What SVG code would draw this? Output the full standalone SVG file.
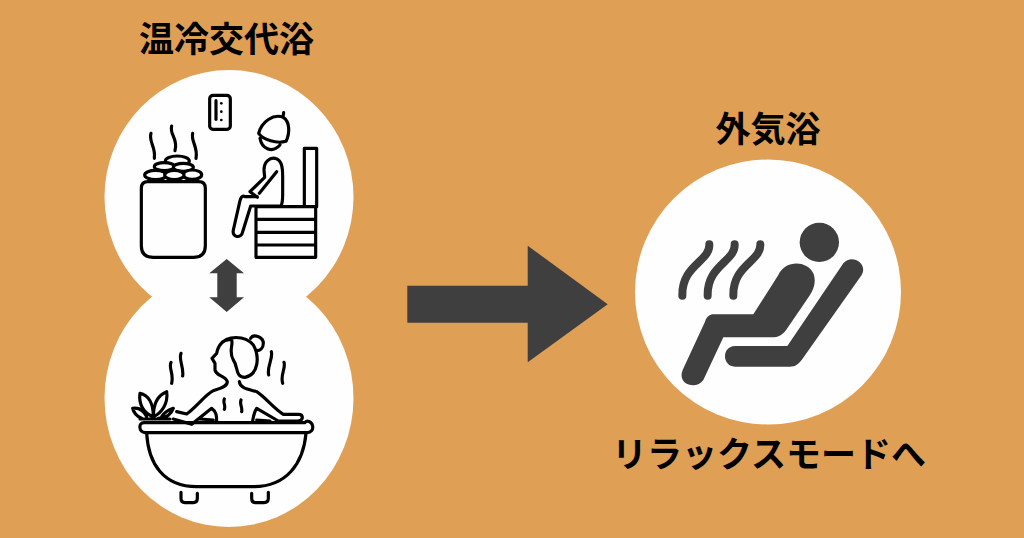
<svg xmlns="http://www.w3.org/2000/svg" width="1024" height="538" viewBox="0 0 1024 538">
<style>
.bg{fill:#df9f55}
.w{fill:#fefefe}
.d{fill:#3f3f3f}
.l{fill:none;stroke:#000;stroke-width:9.500;stroke-linecap:round;stroke-linejoin:round}
.lw{fill:#fefefe;stroke:#000;stroke-width:9.500;stroke-linejoin:round}
.t{font-family:"Noto Sans CJK JP","Noto Sans CJK SC",sans-serif;font-weight:700;font-size:35px;fill:#000;text-anchor:middle}
.st{fill:none;stroke:#3f3f3f;stroke-width:24;stroke-linecap:round}
</style>
<rect class="bg" width="1024" height="538"/>
<g id="bath-cycle-background">
<ellipse class="w" cx="229" cy="197" rx="124.500" ry="127"/>
<ellipse class="w" cx="229" cy="398" rx="124.500" ry="129"/>
</g>
<text class="t" x="226.500" y="52">温冷交代浴</text>
<g id="sauna" transform="translate(120 80) scale(.33333)">
<path class="l" d="M84 305H236Q256 305 256 325V497Q256 532 221 532H99Q64 532 64 497V325Q64 305 84 305Z"/>
<ellipse class="lw" cx="172" cy="243" rx="36" ry="15"/>
<ellipse class="lw" cx="133" cy="260" rx="30" ry="12"/>
<ellipse class="lw" cx="190" cy="262" rx="30" ry="12"/>
<ellipse class="lw" cx="107" cy="285" rx="33" ry="14"/>
<ellipse class="lw" cx="217" cy="284" rx="28" ry="14"/>
<ellipse class="lw" cx="163" cy="285" rx="29" ry="14"/>
<path class="l" d="M93 160C85 185 108 200 103 235M155 138C148 165 175 175 165 212M218 160C212 185 235 200 228 235"/>
<rect class="l" x="269" y="46" width="62" height="102" rx="10"/>
<path class="l" d="M288 62V118"/>
<circle cx="304" cy="70" r="4"/><circle cx="304" cy="95" r="4"/><circle cx="304" cy="120" r="4"/>
<path class="l" d="M416 160C425 125 460 100 490 112C510 125 510 160 498 184C470 192 430 180 416 160ZM491 98L489 110M420 175C425 205 455 222 480 195"/>
<path class="l" d="M432 270C432 245 450 232 465 235C485 240 488 260 488 290V345C488 360 487 370 483 378M432 270L434 292L390 335L412 352M470 275L418 340M412 350H375C365 345 362 355 360 362L340 450C335 475 365 475 368 455L392 378H483"/>
<path class="l" d="M408 380H587V532H408ZM408 418H587M408 457H587M408 495H587M553 380V205H590V380"/>
</g>
<g id="updown-arrow">
<polygon class="d" points="226.700,259 244,273.300 236.700,273.300 236.700,297.300 244,297.300 226.700,312 209.300,297.300 217.300,297.300 217.300,273.300 209.300,273.300"/>
</g>
<g id="bath" transform="translate(120 320) scale(.33333)">
<path class="l" d="M75 338C55 335 55 308 72 308H555C560 298 575 305 578 318C580 330 572 338 562 338ZM80 340C85 430 130 500 230 500H400C500 500 550 430 558 340M183 517V535Q183 548 195 548H220Q232 548 232 535V520M395 520V535Q395 548 405 548H432Q445 548 445 535V517"/>
<path class="l" d="M335 60C310 55 295 75 290 100L276 115L285 130V150C290 170 315 165 322 185C322 200 300 205 280 212C255 225 230 260 200 282L170 275M300 75C320 45 375 45 400 75C420 110 415 165 375 172C345 172 355 140 340 120C325 95 340 75 335 60M392 55C400 40 430 50 430 70C430 85 420 92 410 92M358 185C360 205 385 208 410 215C440 235 460 265 490 283H535C550 283 552 300 535 303H475L410 265C400 280 400 295 397 307M160 297L215 313L275 265C290 275 290 290 290 305M240 297L280 300M410 300L450 303M313 237C308 250 318 255 313 268M363 240C358 255 368 260 365 275"/>
<path class="l" d="M153 127C145 145 162 160 155 190M183 100C175 120 192 140 188 168M454 95C460 115 440 140 446 165M492 127C498 145 480 165 488 190"/>
<path class="l" d="M100 290C70 280 55 250 60 220C85 225 100 250 100 290C100 250 115 225 140 215C145 250 125 280 100 290ZM65 295C50 290 40 275 38 265C55 262 70 270 80 290M125 290C135 275 150 268 160 265C155 280 140 295 115 295M60 297H150"/>
</g>
<g id="connectors">
<polygon class="d" points="407.300,285.700 527.700,285.700 527.700,245.700 607.700,304.300 527.700,362.300 527.700,322.700 407.300,322.700"/>
</g>
<text class="t" x="768" y="142">外気浴</text>
<g id="outdoor-rest">
<ellipse class="w" cx="768" cy="292" rx="133" ry="132.500"/>
<g transform="translate(660 210) scale(.33333)">
<circle class="d" cx="478" cy="97" r="59"/>
<path class="st" d="M148 103C150 155 65 165 67 257M224 103C226 155 141 165 143 257M301 103C303 155 218 165 220 257"/>
<path class="d" d="M160 313H280L355 195C375 150 440 150 460 190C470 215 460 240 450 255L385 350C370 375 355 382 335 382H190L130 510C110 540 50 525 68 480L135 335C140 320 150 313 160 313Z"/>
<path class="d" d="M225 408H382L550 160C575 130 625 160 605 195L425 450C412 465 405 470 390 470H225C185 470 185 408 225 408Z"/>
</g>
</g>
<text class="t" x="769" y="467">リラックスモードへ</text>
</svg>
